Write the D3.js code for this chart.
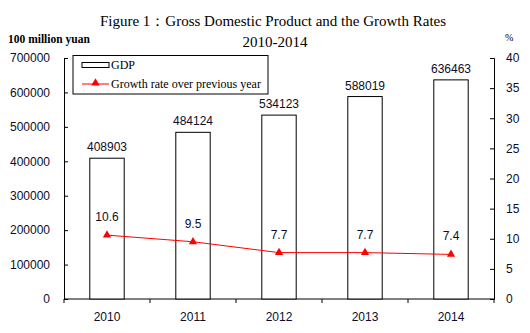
<!DOCTYPE html>
<html>
<head>
<meta charset="utf-8">
<script src="https://cdn.jsdelivr.net/npm/d3@7"></script>
<style>
  body { margin: 0; background: #fff; }
  .tick text { font-family: Arial, "Liberation Sans", sans-serif; font-size: 12px; fill: #0d0d26; }
  .axis path, .axis line { stroke: #000; }
</style>
</head>
<body>
<div id="chart"></div>
<script>
// data
const years = ["2010", "2011", "2012", "2013", "2014"];
const gdp = [408903, 484124, 534123, 588019, 636463];
const growth = [10.6, 9.5, 7.7, 7.7, 7.4];
const gdpTicks = [0, 100000, 200000, 300000, 400000, 500000, 600000, 700000];
const rateTicks = [0, 5, 10, 15, 20, 25, 30, 35, 40];

const params = {
    width: 530,
    height: 333,
    margin: {top: 58, right: 36, bottom: 34, left: 64}
}

const svg = d3.select("#chart")
    .append("svg")
    .attr("width", params.width)
    .attr("height", params.height);

const x0 = params.margin.left, x1 = params.width - params.margin.right;
const y0 = params.height - params.margin.bottom, y1 = params.margin.top;

const xScale = d3.scaleBand()
    .domain(years)
    .range([x0, x1])
    .paddingInner(0.6)
    .paddingOuter(0.3);

const yLeft = d3.scaleLinear().domain([0, 700000]).range([y0, y1]);
const yRight = d3.scaleLinear().domain([0, 40]).range([y0, y1]);

// title
svg.append("text")
    .attr("x", 273).attr("y", 26)
    .attr("text-anchor", "middle")
    .style("font-family", "'Liberation Serif', 'Times New Roman', serif")
    .style("font-size", "15px")
    .text("Figure 1：Gross Domestic Product and the Growth Rates");

svg.append("text")
    .attr("x", 275).attr("y", 47)
    .attr("text-anchor", "middle")
    .style("font-family", "'Liberation Serif', 'Times New Roman', serif")
    .style("font-size", "15px")
    .text("2010-2014");

svg.append("text")
    .attr("x", 8).attr("y", 43)
    .style("font-family", "'Liberation Serif', 'Times New Roman', serif")
    .style("font-size", "11.5px")
    .style("font-weight", "bold")
    .text("100 million yuan");

svg.append("text")
    .attr("x", 505).attr("y", 41)
    .style("font-family", "'Liberation Serif', 'Times New Roman', serif")
    .style("font-size", "10px")
    .text("%");

// axes
svg.append("g")
    .attr("class", "axis")
    .attr("transform", `translate(${x0}, 0)`)
    .call(d3.axisLeft(yLeft).tickValues(gdpTicks).tickFormat(d3.format("d")).tickSizeInner(-4).tickSizeOuter(-4).tickPadding(14));

svg.append("g")
    .attr("class", "axis")
    .attr("transform", `translate(${x1}, 0)`)
    .call(d3.axisRight(yRight).tickValues(rateTicks).tickSizeInner(-4).tickSizeOuter(-4).tickPadding(12));

const xAxis = svg.append("g")
    .attr("class", "axis")
    .attr("transform", `translate(0, ${y0})`)
    .call(d3.axisBottom(xScale).tickSize(0).tickPadding(13));
xAxis.select(".domain").attr("d", `M${x0},0H${x1}`);

// boundary ticks between categories
const step = xScale.step();
svg.append("g")
    .selectAll("line")
    .data(d3.range(years.length + 1))
    .join("line")
    .attr("x1", (d) => x0 + d * step)
    .attr("x2", (d) => x0 + d * step)
    .attr("y1", y0)
    .attr("y2", y0 + 4)
    .attr("stroke", "#000");

// bars
svg.append("g")
    .selectAll("rect")
    .data(gdp)
    .join("rect")
    .attr("x", (d, i) => xScale(years[i]))
    .attr("y", (d) => yLeft(d))
    .attr("width", xScale.bandwidth())
    .attr("height", (d) => y0 - yLeft(d))
    .attr("fill", "#fff")
    .attr("stroke", "#000")
    .attr("stroke-width", 1);

svg.append("g")
    .selectAll("text")
    .data(gdp)
    .join("text")
    .attr("x", (d, i) => xScale(years[i]) + xScale.bandwidth() / 2)
    .attr("y", (d) => yLeft(d) - 7)
    .attr("text-anchor", "middle")
    .style("font-family", "Arial, 'Liberation Sans', sans-serif")
    .style("font-size", "12px")
    .style("fill", "#0d0d26")
    .text((d) => d);

// growth line
const cx = (i) => xScale(years[i]) + xScale.bandwidth() / 2;

svg.append("path")
    .datum(growth)
    .attr("fill", "none")
    .attr("stroke", "#ff0000")
    .attr("stroke-width", 1)
    .attr("d", d3.line().x((d, i) => cx(i)).y((d) => yRight(d)));

svg.append("g")
    .selectAll("path")
    .data(growth)
    .join("path")
    .attr("transform", (d, i) => `translate(${cx(i)}, ${yRight(d)})`)
    .attr("d", d3.symbol(d3.symbolTriangle, 30))
    .attr("fill", "#ff0000");

svg.append("g")
    .selectAll("text")
    .data(growth)
    .join("text")
    .attr("x", (d, i) => cx(i))
    .attr("y", (d) => yRight(d) - 14)
    .attr("text-anchor", "middle")
    .style("font-family", "Arial, 'Liberation Sans', sans-serif")
    .style("font-size", "12px")
    .style("fill", "#0d0d26")
    .text((d) => d3.format(".1f")(d));

// legend
const legend = svg.append("g");
legend.append("rect")
    .attr("x", 73).attr("y", 55.5)
    .attr("width", 195).attr("height", 38.5)
    .attr("fill", "#fff").attr("stroke", "#000");

legend.append("rect")
    .attr("x", 82).attr("y", 62.5)
    .attr("width", 27).attr("height", 5)
    .attr("fill", "#fff").attr("stroke", "#000");

legend.append("text")
    .attr("x", 111).attr("y", 69)
    .style("font-family", "'Liberation Serif', 'Times New Roman', serif")
    .style("font-size", "12px")
    .text("GDP");

legend.append("line")
    .attr("x1", 82).attr("x2", 109)
    .attr("y1", 84).attr("y2", 84)
    .attr("stroke", "#ff0000");

legend.append("path")
    .attr("transform", "translate(95.5, 83)")
    .attr("d", d3.symbol(d3.symbolTriangle, 30))
    .attr("fill", "#ff0000");

legend.append("text")
    .attr("x", 111).attr("y", 88)
    .style("font-family", "'Liberation Serif', 'Times New Roman', serif")
    .style("font-size", "12px")
    .text("Growth rate over previous year");
</script>
</body>
</html>
